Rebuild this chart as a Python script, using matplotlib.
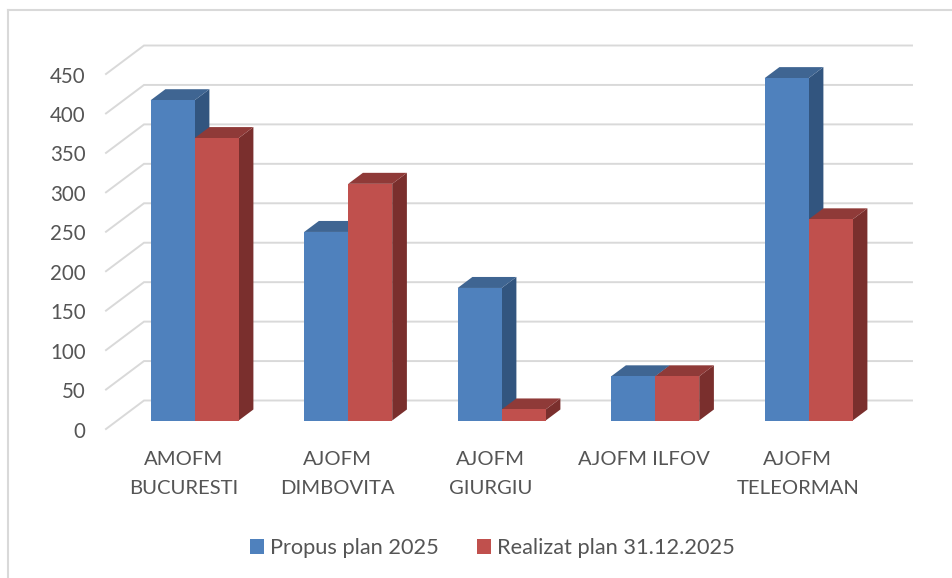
import matplotlib
matplotlib.use("Agg")
import matplotlib.pyplot as plt
from matplotlib.patches import Polygon, Patch

categories = ["AMOFM\nBUCURESTI", "AJOFM\nDIMBOVITA", "AJOFM\nGIURGIU", "AJOFM ILFOV", "AJOFM\nTELEORMAN"]
propus = [406, 239, 168, 56, 434]
realizat = [358, 300, 14, 56, 255]
ticks = [0, 50, 100, 150, 200, 250, 300, 350, 400, 450]
series_names = ["Propus plan 2025", "Realizat plan 31.12.2025"]

W, H = 952, 578
GROUP_PX = 153.5      # px per category
VALUE_PX = 355 / 450  # px per value unit
X0_PX, Y0_PX = 194.7, 420.5
BAR = 44 / GROUP_PX

def dx(px):
    return px / GROUP_PX

def dy(px):
    return px / VALUE_PX

fig = plt.figure(figsize=(W / 100, H / 100), dpi=100)
ax = fig.add_axes([0, 0, 1, 1])
ax.set_xlim(-X0_PX / GROUP_PX, (W - X0_PX) / GROUP_PX)
ax.set_ylim(-(H - Y0_PX) / VALUE_PX, Y0_PX / VALUE_PX)
ax.axis("off")

FONT = "Lato"
TXT = "#555555"
GRID = "#D9D9D9"
lw_grid = 1.4

# chart frame (top and left only, the crop cuts the rest)
ax.plot([dx(7.5 - X0_PX), dx(W - X0_PX)], [dy(Y0_PX - 10)] * 2, color=GRID, lw=1.5, zorder=1)
ax.plot([dx(7.5 - X0_PX)] * 2, [dy(Y0_PX - 10), dy(Y0_PX - H)], color=GRID, lw=1.5, zorder=1)

# walls: gridlines in oblique projection
front_x, back_x, right_x = dx(106 - X0_PX), dx(144 - X0_PX), dx(912 - X0_PX)
front_off, back_off = dy(-8.5), dy(20)
for t in ticks:
    ax.plot([front_x, back_x, right_x],
            [t + front_off, t + back_off, t + back_off],
            color=GRID, lw=lw_grid, zorder=1, solid_joinstyle="miter")
    ax.text(dx(85.5 - X0_PX), t + front_off + dy(-0.5), str(t), ha="right", va="center_baseline",
            fontsize=14.8, color=TXT, family=FONT)

# bars
D_X, D_Y = dx(14.7), dy(11)
styles = [("#4F81BD", "#3F6592", "#32557F"), ("#C0504D", "#8F3A38", "#7A2F2D")]

def bar3d(ax, left, value, cols, z):
    front, top, side = cols
    r = left + BAR
    ax.add_patch(Polygon([(r, 0), (r + D_X, D_Y), (r + D_X, value + D_Y), (r, value)],
                         facecolor=side, edgecolor="none", zorder=z))
    ax.add_patch(Polygon([(left, value), (left + D_X, value + D_Y), (r + D_X, value + D_Y), (r, value)],
                         facecolor=top, edgecolor="none", zorder=z))
    ax.add_patch(Polygon([(left, 0), (r, 0), (r, value), (left, value)],
                         facecolor=front, edgecolor="none", zorder=z + 0.1))

for i, (a, b) in enumerate(zip(propus, realizat)):
    bar3d(ax, i - BAR, a, styles[0], 3)
    bar3d(ax, i, b, styles[1], 4)

# category labels, one text per line
for i, c in enumerate(categories):
    for line, y_px in zip(c.split("\n"), (459.5, 488.5)):
        ax.text(i + dx(-11), dy(Y0_PX - y_px), line, ha="center", va="center",
                fontsize=14.6, color=TXT, family=FONT)

# legend
handles = [Patch(facecolor=styles[k][0], edgecolor="none", label=series_names[k]) for k in range(2)]
leg = ax.legend(handles=handles, ncol=2, loc="center", frameon=False,
                bbox_to_anchor=(492.5 / W, 1 - 548 / H), bbox_transform=fig.transFigure,
                prop={"family": FONT, "size": 15.7}, labelcolor=TXT,
                handlelength=0.64, handleheight=0.64, handletextpad=0.28,
                columnspacing=1.74, borderpad=0, borderaxespad=0)

fig.savefig("out.png", dpi=100, facecolor="white")
